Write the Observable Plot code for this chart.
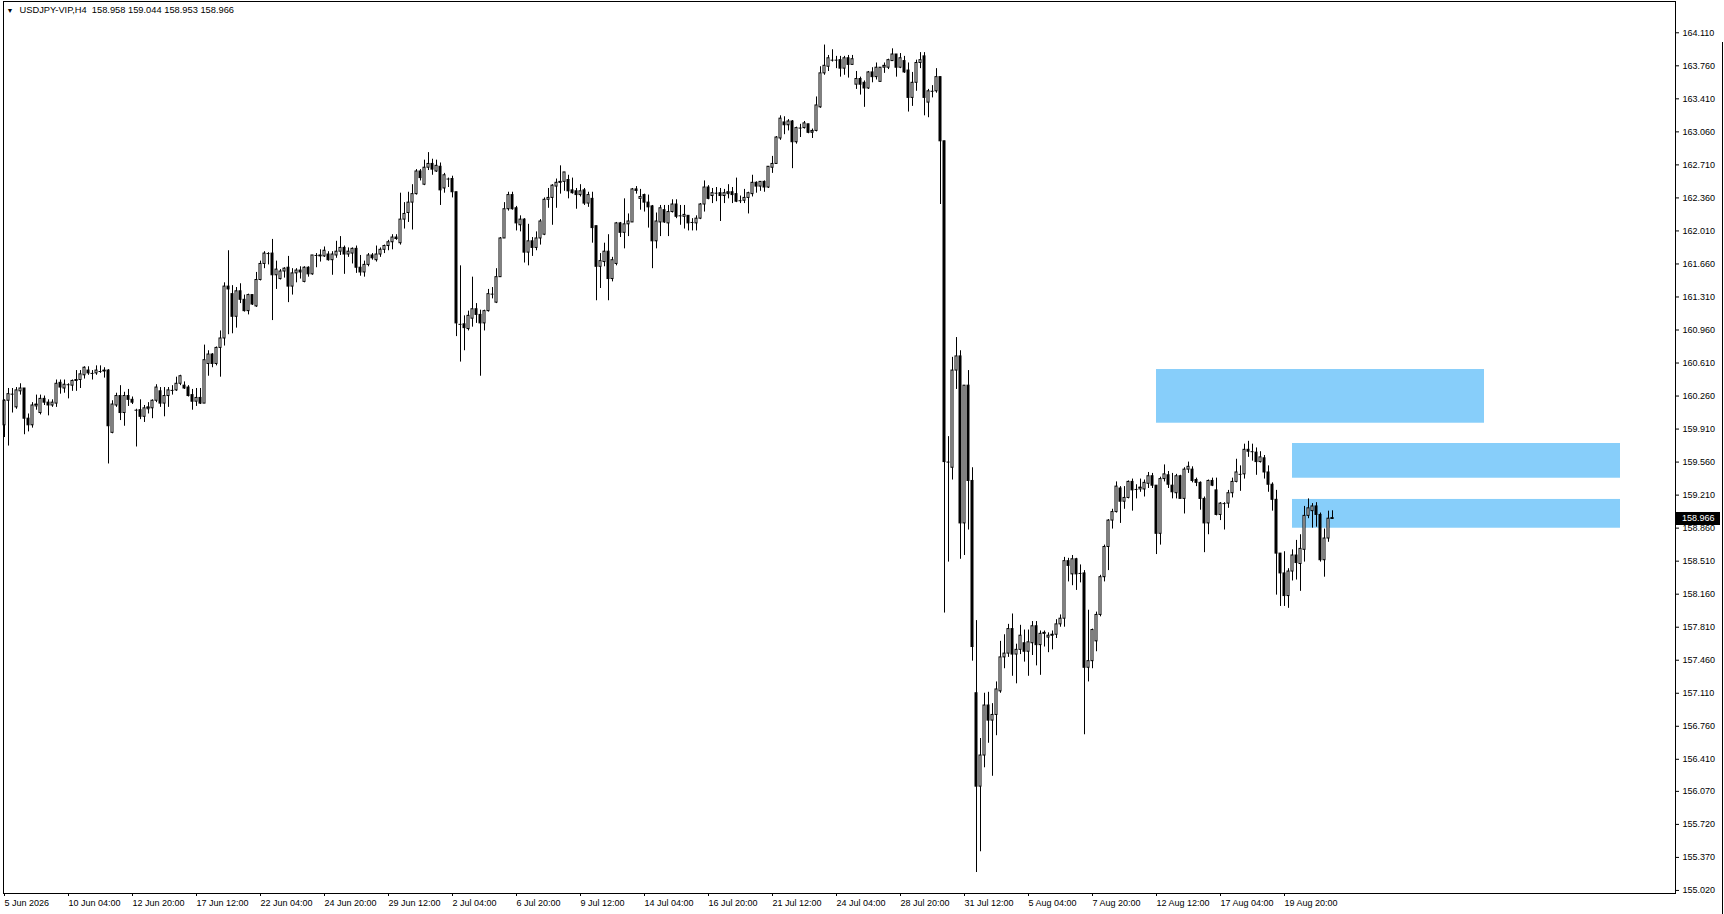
<!DOCTYPE html>
<html><head><meta charset="utf-8">
<script src="https://cdn.jsdelivr.net/npm/d3@7"></script>
<script src="https://cdn.jsdelivr.net/npm/@observablehq/plot@0.6"></script>
<style>
html,body{margin:0;padding:0;background:#fff;overflow:hidden}
#chart{position:relative;width:1724px;height:914px}
</style></head><body><div id="chart"></div>
<script>
const symbol = "USDJPY-VIP,H4";

const openP = [
159.95,160.21,160.28,160.14,160.31,160.34,160.02,159.95,160.15,160.08,
160.23,160.19,160.16,160.18,160.40,160.34,160.38,160.37,160.42,160.43,
160.48,160.53,160.50,160.50,160.52,160.52,160.53,159.87,160.16,160.26,
160.08,160.26,160.22,160.11,160.11,160.04,160.12,160.13,160.21,160.31,
160.18,160.26,160.32,160.32,160.39,160.37,160.35,160.27,160.20,160.24,
160.18,160.60,160.70,160.60,160.77,160.87,161.42,161.34,161.10,161.37,
161.28,161.16,161.33,161.21,161.49,161.66,161.77,161.77,161.54,161.50,
161.58,161.62,161.42,161.56,161.59,161.47,161.62,161.55,161.75,161.74,
161.74,161.76,161.70,161.75,161.79,161.83,161.76,161.77,161.82,161.62,
161.57,161.65,161.75,161.70,161.76,161.81,161.85,161.89,161.94,161.88,
162.13,162.20,162.31,162.40,162.64,162.50,162.68,162.72,162.64,162.69,
162.46,162.56,162.56,162.42,161.02,161.02,160.97,161.08,161.18,161.12,
161.03,161.16,161.34,161.25,161.52,161.93,162.24,162.39,162.25,162.07,
162.13,161.78,161.90,161.83,161.93,161.97,162.34,162.36,162.48,162.52,
162.53,162.55,162.44,162.43,162.39,162.44,162.30,162.35,162.06,161.63,
161.68,161.79,161.50,161.66,162.09,161.99,162.08,162.10,162.45,162.35,
162.39,162.31,162.27,161.90,162.10,162.23,162.09,162.21,162.29,162.17,
162.16,162.17,162.10,162.09,162.14,162.29,162.47,162.38,162.41,162.41,
162.38,162.40,162.42,162.40,162.33,162.33,162.36,162.40,162.52,162.48,
162.53,162.47,162.68,162.72,162.99,163.16,163.13,163.17,162.95,163.10,
163.10,163.14,163.05,163.07,163.32,163.68,163.75,163.82,163.82,163.82,
163.73,163.84,163.77,163.56,163.62,163.58,163.52,163.69,163.64,163.59,
163.74,163.74,163.81,163.88,163.74,163.81,163.71,163.42,163.58,163.79,
163.86,163.37,163.49,163.49,163.64,162.96,159.56,159.50,160.53,160.68,
158.91,160.37,159.36,157.11,156.12,156.45,156.98,156.82,156.88,157.13,
157.49,157.53,157.79,157.52,157.57,157.64,157.55,157.64,157.82,157.62,
157.74,157.70,157.72,157.73,157.84,157.90,158.51,158.37,158.53,158.38,
158.38,157.38,157.45,157.66,157.94,158.34,158.66,158.94,159.03,159.28,
159.14,159.18,159.35,159.27,159.27,159.27,159.33,159.41,159.31,158.80,
159.38,159.42,159.31,159.23,159.41,159.17,159.48,159.48,159.37,159.34,
159.17,158.91,159.36,159.26,159.00,159.12,159.12,159.23,159.35,159.43,
159.43,159.69,159.67,159.66,159.56,159.60,159.45,159.32,159.16,158.59,
158.38,158.14,158.40,158.57,158.48,158.63,158.99,159.04,159.09,159.00,
158.52,158.75,158.958];

const highP = [
160.22,160.34,160.34,160.35,160.39,160.34,160.07,160.19,160.27,160.27,
160.26,160.22,160.22,160.43,160.43,160.43,160.39,160.43,160.53,160.53,
160.57,160.57,160.53,160.58,160.58,160.56,160.54,160.21,160.29,160.37,
160.30,160.33,160.25,160.12,160.22,160.16,160.19,160.22,160.38,160.35,
160.35,160.35,160.37,160.46,160.48,160.41,160.37,160.33,160.34,160.34,
160.80,160.74,160.71,160.78,160.95,161.46,161.80,161.43,161.41,161.45,
161.33,161.34,161.33,161.57,161.69,161.79,161.78,161.92,161.69,161.60,
161.62,161.74,161.61,161.61,161.63,161.63,161.63,161.75,161.77,161.81,
161.84,161.79,161.79,161.90,161.95,161.85,161.83,161.83,161.85,161.75,
161.69,161.77,161.77,161.85,161.83,161.86,161.91,161.97,161.97,162.41,
162.31,162.42,162.50,162.66,162.66,162.76,162.84,162.77,162.76,162.73,
162.62,162.57,162.59,162.42,161.64,161.11,161.16,161.52,161.24,161.17,
161.17,161.39,161.41,161.61,161.94,162.31,162.42,162.42,162.27,162.17,
162.14,162.08,161.94,162.00,162.13,162.36,162.46,162.50,162.56,162.70,
162.63,162.60,162.57,162.46,162.50,162.46,162.42,162.42,162.06,161.77,
161.88,161.97,161.73,162.10,162.10,162.35,162.19,162.46,162.48,162.45,
162.40,162.39,162.28,162.20,162.28,162.28,162.28,162.34,162.34,162.28,
162.28,162.17,162.14,162.17,162.30,162.54,162.49,162.46,162.47,162.46,
162.45,162.50,162.47,162.57,162.38,162.45,162.42,162.60,162.53,162.53,
162.54,162.69,162.80,163.01,163.23,163.22,163.19,163.18,163.11,163.14,
163.17,163.14,163.09,163.43,163.75,163.98,163.87,163.93,163.86,163.86,
163.86,163.87,163.87,163.70,163.64,163.60,163.70,163.74,163.79,163.74,
163.79,163.83,163.94,163.88,163.89,163.86,163.79,163.69,163.82,163.90,
163.90,163.51,163.55,163.73,163.64,162.96,159.83,160.67,160.88,160.74,
160.37,160.53,159.50,157.88,156.63,157.11,157.12,157.00,157.23,157.66,
157.73,157.84,157.95,157.63,157.83,157.78,157.78,157.87,157.87,157.77,
157.77,157.75,157.77,157.89,157.94,158.55,158.54,158.57,158.54,158.47,
158.41,157.99,157.79,157.97,158.36,158.68,158.95,159.06,159.35,159.30,
159.30,159.36,159.38,159.32,159.38,159.37,159.45,159.44,159.31,159.40,
159.53,159.46,159.44,159.43,159.42,159.50,159.56,159.51,159.39,159.35,
159.19,159.37,159.39,159.39,159.13,159.13,159.26,159.39,159.59,159.52,
159.75,159.78,159.75,159.71,159.67,159.63,159.52,159.34,159.26,158.59,
158.61,158.43,158.63,158.73,158.79,159.09,159.17,159.12,159.13,159.02,
158.85,159.04,159.044];

const lowP = [
159.82,159.73,160.08,160.12,160.27,159.85,159.88,159.92,160.11,160.06,
160.16,160.05,160.14,160.14,160.28,160.29,160.23,160.31,160.31,160.34,
160.44,160.48,160.43,160.48,160.50,160.45,159.54,159.86,160.14,160.00,
159.94,160.15,160.17,159.72,160.01,159.98,160.07,160.02,160.19,160.14,
160.04,160.14,160.27,160.31,160.37,160.33,160.25,160.11,160.15,160.17,
160.18,160.47,160.56,160.58,160.46,160.79,160.91,160.92,160.98,161.24,
161.15,161.12,161.22,161.20,161.48,161.61,161.65,161.06,161.39,161.49,
161.51,161.25,161.33,161.46,161.50,161.46,161.52,161.54,161.62,161.68,
161.73,161.69,161.54,161.72,161.75,161.55,161.73,161.66,161.56,161.53,
161.52,161.63,161.70,161.68,161.73,161.77,161.80,161.81,161.91,161.86,
162.03,162.10,162.02,162.39,162.54,162.49,162.65,162.60,162.63,162.28,
162.41,162.47,162.36,160.89,160.62,160.74,160.95,160.99,161.03,160.47,
160.95,161.15,161.29,161.24,161.52,161.93,162.22,162.23,162.01,162.00,
161.67,161.64,161.74,161.80,161.86,161.96,162.25,162.07,162.25,162.40,
162.43,162.35,162.40,162.24,162.37,162.28,162.26,161.88,161.27,161.40,
161.63,161.27,161.47,161.64,161.94,161.82,161.95,162.10,162.40,162.23,
162.21,162.04,161.61,161.82,161.95,162.09,161.95,162.20,162.14,162.07,
162.03,162.01,162.01,162.01,162.13,162.21,162.34,162.30,162.32,162.11,
162.30,162.35,162.30,162.31,162.30,162.30,162.19,162.37,162.41,162.43,
162.42,162.46,162.62,162.72,162.97,163.03,163.07,162.67,162.93,163.00,
163.09,163.04,162.99,163.06,163.31,163.66,163.70,163.80,163.73,163.64,
163.66,163.63,163.77,163.51,163.45,163.32,163.51,163.58,163.61,163.59,
163.68,163.72,163.81,163.64,163.73,163.68,163.27,163.33,163.49,163.73,
163.23,163.21,163.42,163.47,162.29,157.96,158.50,159.37,160.33,158.53,
158.57,158.84,157.45,155.21,155.43,156.32,156.58,156.23,156.66,157.11,
157.37,157.49,157.29,157.21,157.52,157.44,157.29,157.51,157.40,157.30,
157.60,157.54,157.57,157.69,157.81,157.81,158.29,158.25,158.20,158.28,
156.67,157.23,157.37,157.55,157.92,158.29,158.41,158.85,159.02,158.91,
159.06,159.17,159.04,159.17,159.24,159.19,159.28,159.28,158.58,158.68,
159.35,159.28,159.17,159.17,159.17,159.01,159.44,159.34,159.30,159.05,
158.60,158.79,159.30,158.99,158.94,158.84,159.07,159.18,159.34,159.25,
159.38,159.61,159.57,159.42,159.55,159.38,159.24,159.04,158.15,158.03,
158.03,158.01,158.30,158.31,158.19,158.50,158.96,158.86,158.87,158.50,
158.34,158.71,158.953];

const closeP = [
160.21,160.28,160.28,160.32,160.34,160.02,159.95,160.16,160.17,160.23,
160.19,160.16,160.19,160.39,160.35,160.38,160.38,160.42,160.43,160.49,
160.56,160.50,160.50,160.53,160.52,160.53,159.94,160.17,160.26,160.08,
160.26,160.22,160.19,160.11,160.04,160.13,160.14,160.21,160.35,160.18,
160.26,160.32,160.32,160.39,160.47,160.34,160.26,160.20,160.24,160.18,
160.64,160.70,160.60,160.77,160.87,161.42,161.39,161.10,161.37,161.28,
161.16,161.33,161.23,161.49,161.66,161.77,161.77,161.54,161.60,161.58,
161.61,161.42,161.56,161.59,161.57,161.62,161.55,161.75,161.75,161.75,
161.80,161.70,161.76,161.79,161.83,161.76,161.79,161.82,161.62,161.57,
161.65,161.75,161.72,161.76,161.81,161.85,161.89,161.94,161.93,162.13,
162.19,162.31,162.40,162.64,162.57,162.68,162.72,162.66,162.70,162.44,
162.60,162.56,162.42,161.03,161.02,160.98,161.11,161.18,161.12,161.03,
161.16,161.34,161.34,161.52,161.93,162.24,162.39,162.24,162.09,162.13,
161.78,161.90,161.83,161.93,162.11,162.34,162.36,162.49,162.52,162.53,
162.63,162.43,162.41,162.39,162.43,162.30,162.39,162.04,161.63,161.69,
161.79,161.50,161.70,162.09,161.99,162.08,162.11,162.45,162.44,162.37,
162.31,162.26,161.90,162.11,162.25,162.10,162.21,162.29,162.16,162.17,
162.18,162.09,162.10,162.14,162.29,162.47,162.35,162.41,162.41,162.38,
162.41,162.42,162.39,162.32,162.33,162.36,162.41,162.52,162.48,162.53,
162.47,162.69,162.72,163.00,163.20,163.13,163.17,162.95,163.10,163.10,
163.15,163.05,163.07,163.34,163.68,163.76,163.84,163.82,163.82,163.73,
163.84,163.77,163.83,163.62,163.56,163.52,163.69,163.64,163.74,163.74,
163.76,163.82,163.88,163.74,163.84,163.69,163.42,163.58,163.79,163.82,
163.42,163.49,163.49,163.64,162.96,159.56,159.56,160.53,160.68,158.91,
160.37,159.36,157.60,156.12,156.45,156.98,156.82,156.88,157.15,157.49,
157.53,157.79,157.52,157.57,157.72,157.55,157.65,157.82,157.62,157.74,
157.75,157.72,157.73,157.84,157.90,158.51,158.46,158.53,158.37,158.38,
157.38,157.45,157.78,157.94,158.34,158.66,158.94,159.03,159.30,159.14,
159.18,159.35,159.26,159.27,159.29,159.34,159.41,159.31,158.80,159.38,
159.43,159.32,159.24,159.41,159.17,159.48,159.51,159.36,159.34,159.17,
158.91,159.36,159.31,159.00,159.12,159.12,159.23,159.35,159.45,159.43,
159.69,159.67,159.67,159.56,159.61,159.45,159.32,159.16,158.59,158.38,
158.14,158.40,158.57,158.49,158.64,158.99,159.07,159.09,159.00,158.52,
158.75,158.96,158.966];

const xTickBars = [0,16,32,48,64,80,96,112,128,144,160,176,192,208,224,240,256,272,288,304,320];
const xTickLabels = ["5 Jun 2026","10 Jun 04:00","12 Jun 20:00","17 Jun 12:00","22 Jun 04:00","24 Jun 20:00","29 Jun 12:00","2 Jul 04:00","6 Jul 20:00","9 Jul 12:00","14 Jul 04:00","16 Jul 20:00","21 Jul 12:00","24 Jul 04:00","28 Jul 20:00","31 Jul 12:00","5 Aug 04:00","7 Aug 20:00","12 Aug 12:00","17 Aug 04:00","19 Aug 20:00"];
const yTicks = [164.110,163.760,163.410,163.060,162.710,162.360,162.010,161.660,161.310,160.960,160.610,160.260,159.910,159.560,159.210,158.860,158.510,158.160,157.810,157.460,157.110,156.760,156.410,156.070,155.720,155.370,155.020];

// supply/demand zones (bar index from/to, price top/bottom)
const zoneFrom = [288, 322, 322];
const zoneTo = [370, 404, 404];
const zoneTop = [160.541, 159.757, 159.164];
const zoneBottom = [159.972, 159.389, 158.859];

const bars = openP.map((o, i) => ({i, o, h: highP[i], l: lowP[i], c: closeP[i]}));
const zones = zoneFrom.map((f, k) => ({x1: f, x2: zoneTo[k], y1: zoneBottom[k], y2: zoneTop[k]}));
const upBars = bars.filter(d => d.c >= d.o);
const downBars = bars.filter(d => d.c < d.o);
const flatBars = bars.filter(d => Math.abs(d.c - d.o) < 0.02);
const last = bars[bars.length - 1];
const f3 = d3.format(".3f");
const title = `${symbol}\u00a0\u00a0${f3(last.o)} ${f3(last.h)} ${f3(last.l)} ${f3(last.c)}`;
const labelOf = new Map(xTickBars.map((b, k) => [b, xTickLabels[k]]));
const FONT = "'Liberation Sans', Arial, sans-serif";

const plot = Plot.plot({
  width: 1724, height: 914,
  marginLeft: 3, marginRight: 49, marginTop: 1, marginBottom: 21,
  style: {fontFamily: FONT, fontSize: "9px", color: "#000", background: "#fff", overflow: "visible"},
  x: {domain: [-0.25, 417.75], axis: null, label: null},
  y: {domain: [154.9876, 164.4417], axis: null, label: null},
  marks: [
    Plot.rect(zones, {x1: "x1", x2: "x2", y1: "y1", y2: "y2", fill: "#87cefa"}),
    Plot.ruleX(bars, {x: "i", y1: "l", y2: "h", stroke: "#000", strokeWidth: 1}),
    Plot.rect(upBars, {x1: d => d.i - 0.25, x2: d => d.i + 0.25, y1: "o", y2: "c", fill: "#fff", stroke: "#000", strokeWidth: 1}),
    Plot.rect(downBars, {x1: d => d.i - 0.25, x2: d => d.i + 0.25, y1: "o", y2: "c", fill: "#000", stroke: "#000", strokeWidth: 1}),
    Plot.ruleY(flatBars, {y: "c", x1: d => d.i - 0.375, x2: d => d.i + 0.375, stroke: "#000", strokeWidth: 1}),
    Plot.axisY(yTicks, {anchor: "right", tickSize: 3, tickPadding: 4, tickFormat: d => f3(d), fontSize: 9, label: null}),
    Plot.axisX(xTickBars, {anchor: "bottom", tickSize: 3, tickPadding: 3, tickFormat: d => labelOf.get(d), textAnchor: "start", fontSize: 9, label: null}),
    Plot.frame({stroke: "#000"}),
    Plot.text(["\u25BC"], {frameAnchor: "top-left", dx: 6.5, dy: 9, fontSize: 7, textAnchor: "middle", lineAnchor: "middle", fill: "#000"}),
    Plot.text([title], {frameAnchor: "top-left", dx: 16, dy: 9, fontSize: 9.3, textAnchor: "start", lineAnchor: "middle", fill: "#000"})
  ]
});

document.getElementById("chart").appendChild(plot);

// last price marker on the price scale
const ySc = plot.scale("y"), xSc = plot.scale("x");
const yy = Math.round(ySc.apply(last.c));
const xr = xSc.range[1];
const svg = d3.select(plot);
svg.append("rect").attr("x", xr + 1).attr("y", yy - 6).attr("width", 44).attr("height", 13).attr("fill", "#000");
svg.append("text").attr("x", xr + 7).attr("y", yy + 0.5).attr("dy", "0.32em")
  .attr("text-anchor", "start")
  .attr("fill", "#fff").attr("font-size", 9).attr("font-family", FONT)
  .text(f3(last.c));
// window edge
svg.append("line").attr("x1", 1722.5).attr("x2", 1722.5).attr("y1", 42).attr("y2", 914).attr("stroke", "#000");
</script>
</body></html>
